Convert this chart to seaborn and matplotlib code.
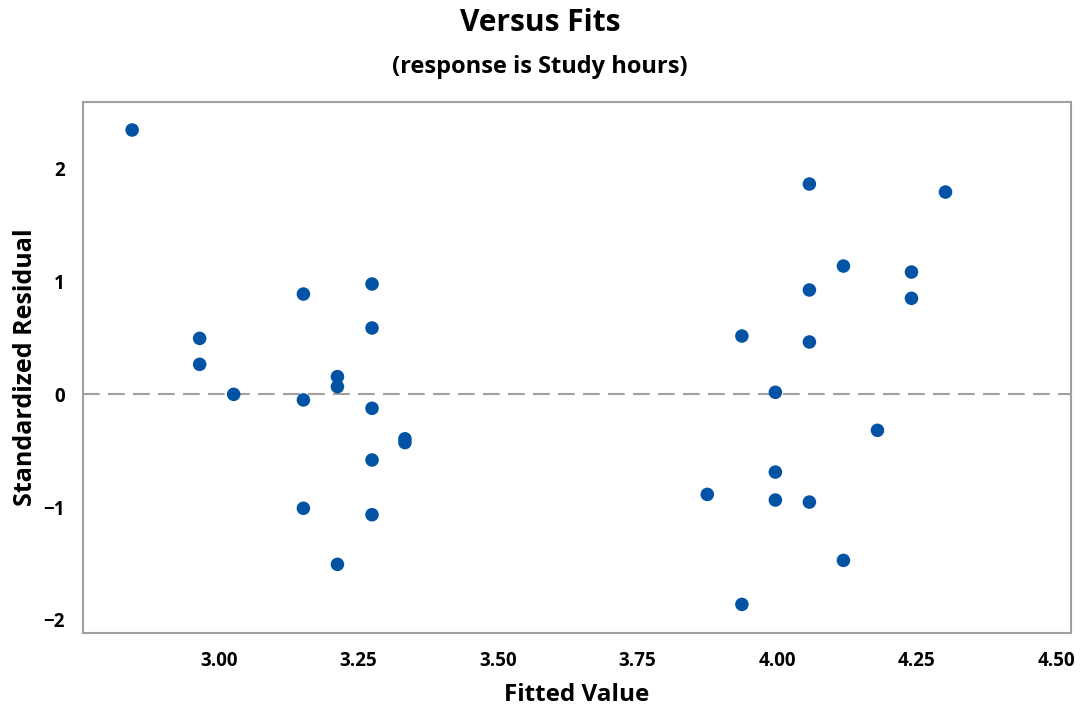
import matplotlib
matplotlib.use("Agg")
import matplotlib.pyplot as plt
import seaborn as sns
import pandas as pd

fitted = [2.844, 2.965, 2.965, 3.026,
          3.151, 3.151, 3.151,
          3.212, 3.212, 3.212,
          3.274, 3.274, 3.274, 3.274, 3.274,
          3.333, 3.333,
          3.875, 3.937, 3.937,
          3.997, 3.997, 3.997,
          4.058, 4.058, 4.058, 4.058,
          4.119, 4.119, 4.180,
          4.241, 4.241, 4.302]
resid = [2.343, 0.496, 0.266, 0.000,
         0.889, -0.050, -1.010,
         0.157, 0.068, -1.507,
         0.978, 0.588, -0.124, -0.582, -1.067,
         -0.394, -0.428,
         -0.887, 0.517, -1.862,
         0.018, -0.689, -0.937,
         1.864, 0.925, 0.464, -0.955,
         1.137, -1.472, -0.319,
         1.084, 0.851, 1.793]

x_ticks = [3.00, 3.25, 3.50, 3.75, 4.00, 4.25, 4.50]
x_ticklabels = ["3.00", "3.25", "3.50", "3.75", "4.00", "4.25", "4.50"]
y_ticks = [-2, -1, 0, 1, 2]
y_ticklabels = ["\u22122", "\u22121", "0", "1", "2"]

df = pd.DataFrame({"Fitted Value": fitted, "Standardized Residual": resid})

sns.set_style("white")
plt.rcParams["font.family"] = ["Open Sans", "DejaVu Sans"]
plt.rcParams["text.color"] = "black"
plt.rcParams["axes.labelcolor"] = "black"
plt.rcParams["xtick.labelcolor"] = "black"
plt.rcParams["ytick.labelcolor"] = "black"

grey = "#A0A0A0"
fig = plt.figure(figsize=(10.8, 7.06), dpi=100)
ax = fig.add_axes([0.0769, 0.1038, 0.9148, 0.7517])

ax.axhline(0, color=grey, lw=1.5, ls=(0, (8, 4)), zorder=1)
sns.scatterplot(data=df, x="Fitted Value", y="Standardized Residual", ax=ax,
                color="#0353A4", s=95, edgecolor="none", zorder=3)

ax.set_xlim(2.756, 4.527)
ax.set_ylim(-2.113, 2.591)
ax.set_xticks(x_ticks)
ax.set_xticklabels(x_ticklabels)
ax.set_yticks(y_ticks)
ax.set_yticklabels(y_ticklabels)

for sp in ax.spines.values():
    sp.set_color(grey)
    sp.set_linewidth(1.5)
ax.tick_params(axis="both", direction="out", length=7, width=1.5, color=grey,
               labelsize=13.5, pad=6)
for lab in ax.get_xticklabels() + ax.get_yticklabels():
    lab.set_fontweight("bold")

ax.set_xlabel("Fitted Value", fontsize=17.5, fontweight="bold", labelpad=9)
ax.set_ylabel("Standardized Residual", fontsize=18, fontweight="bold", labelpad=4)

fig.text(0.5, 0.968, "Versus Fits", ha="center", va="center", fontsize=21.5, fontweight="bold")
fig.text(0.5, 0.905, "(response is Study hours)", ha="center", va="center", fontsize=17, fontweight="bold")

fig.savefig("out.png", dpi=100)
